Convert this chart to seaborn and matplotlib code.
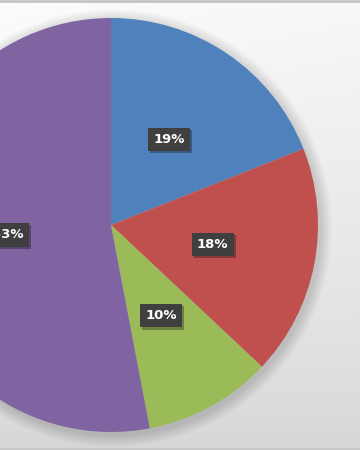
# pie chart of share per category, office style
import numpy as np
import seaborn as sns
import matplotlib.pyplot as plt
import matplotlib.patheffects as pe
from matplotlib.patches import Circle

categories = ['A', 'B', 'C', 'D']
values = [19, 18, 10, 53]
colors = ['#4F81BD', '#C0504D', '#9BBB59', '#8064A2']

sns.set_theme(style='white')
plt.rcParams['font.family'] = ['DejaVu Sans']

fig = plt.figure(figsize=(3.6, 4.5), dpi=100)
ax = fig.add_axes([0, 0, 1, 1])

# background gradient (light at top, grey at bottom)
yy, xx = np.mgrid[0:450, 0:360]
grad = 0.84 + 0.15 * (yy / 450.0) ** 0.8 - 0.02 * (xx / 360.0) * (yy / 450.0)
bg = np.dstack([grad, grad, grad])
ax.imshow(bg, extent=(0, 360, 0, 450), origin='lower', zorder=0, aspect='auto')
ax.axhline(449, color='#c4c4c4', lw=2, zorder=1)
ax.axhline(1, color='#c9c9c9', lw=2, zorder=1)

cx, cy, r = 111, 225, 207

# soft shadow behind the pie
for i in range(12):
    ax.add_patch(Circle((cx + 2, cy - 3), r + 12 - i, color='black', alpha=0.01, lw=0, zorder=1))

wedges, texts, autotexts = ax.pie(
    values, colors=colors, startangle=90, counterclock=False,
    center=(cx, cy), radius=r, autopct='%.0f%%', pctdistance=0.5,
    frame=True, textprops=dict(color='white', fontsize=9.5, fontweight='bold'),
    wedgeprops=dict(linewidth=0),
)
ax.set_xlim(0, 360)
ax.set_ylim(0, 450)
ax.axis('off')
ax.set_aspect('auto')
for w in wedges:
    w.set_zorder(2)

for t in autotexts:
    t.set_zorder(3)
    t.set_bbox(dict(boxstyle='square,pad=0.4', fc='#3f3f3f', ec='none'))
    t.get_bbox_patch().set_path_effects([
        pe.SimplePatchShadow(offset=(1.5, -1.5), shadow_rgbFace='black', alpha=0.3),
        pe.Normal(),
    ])

fig.savefig('out.png', dpi=100)
